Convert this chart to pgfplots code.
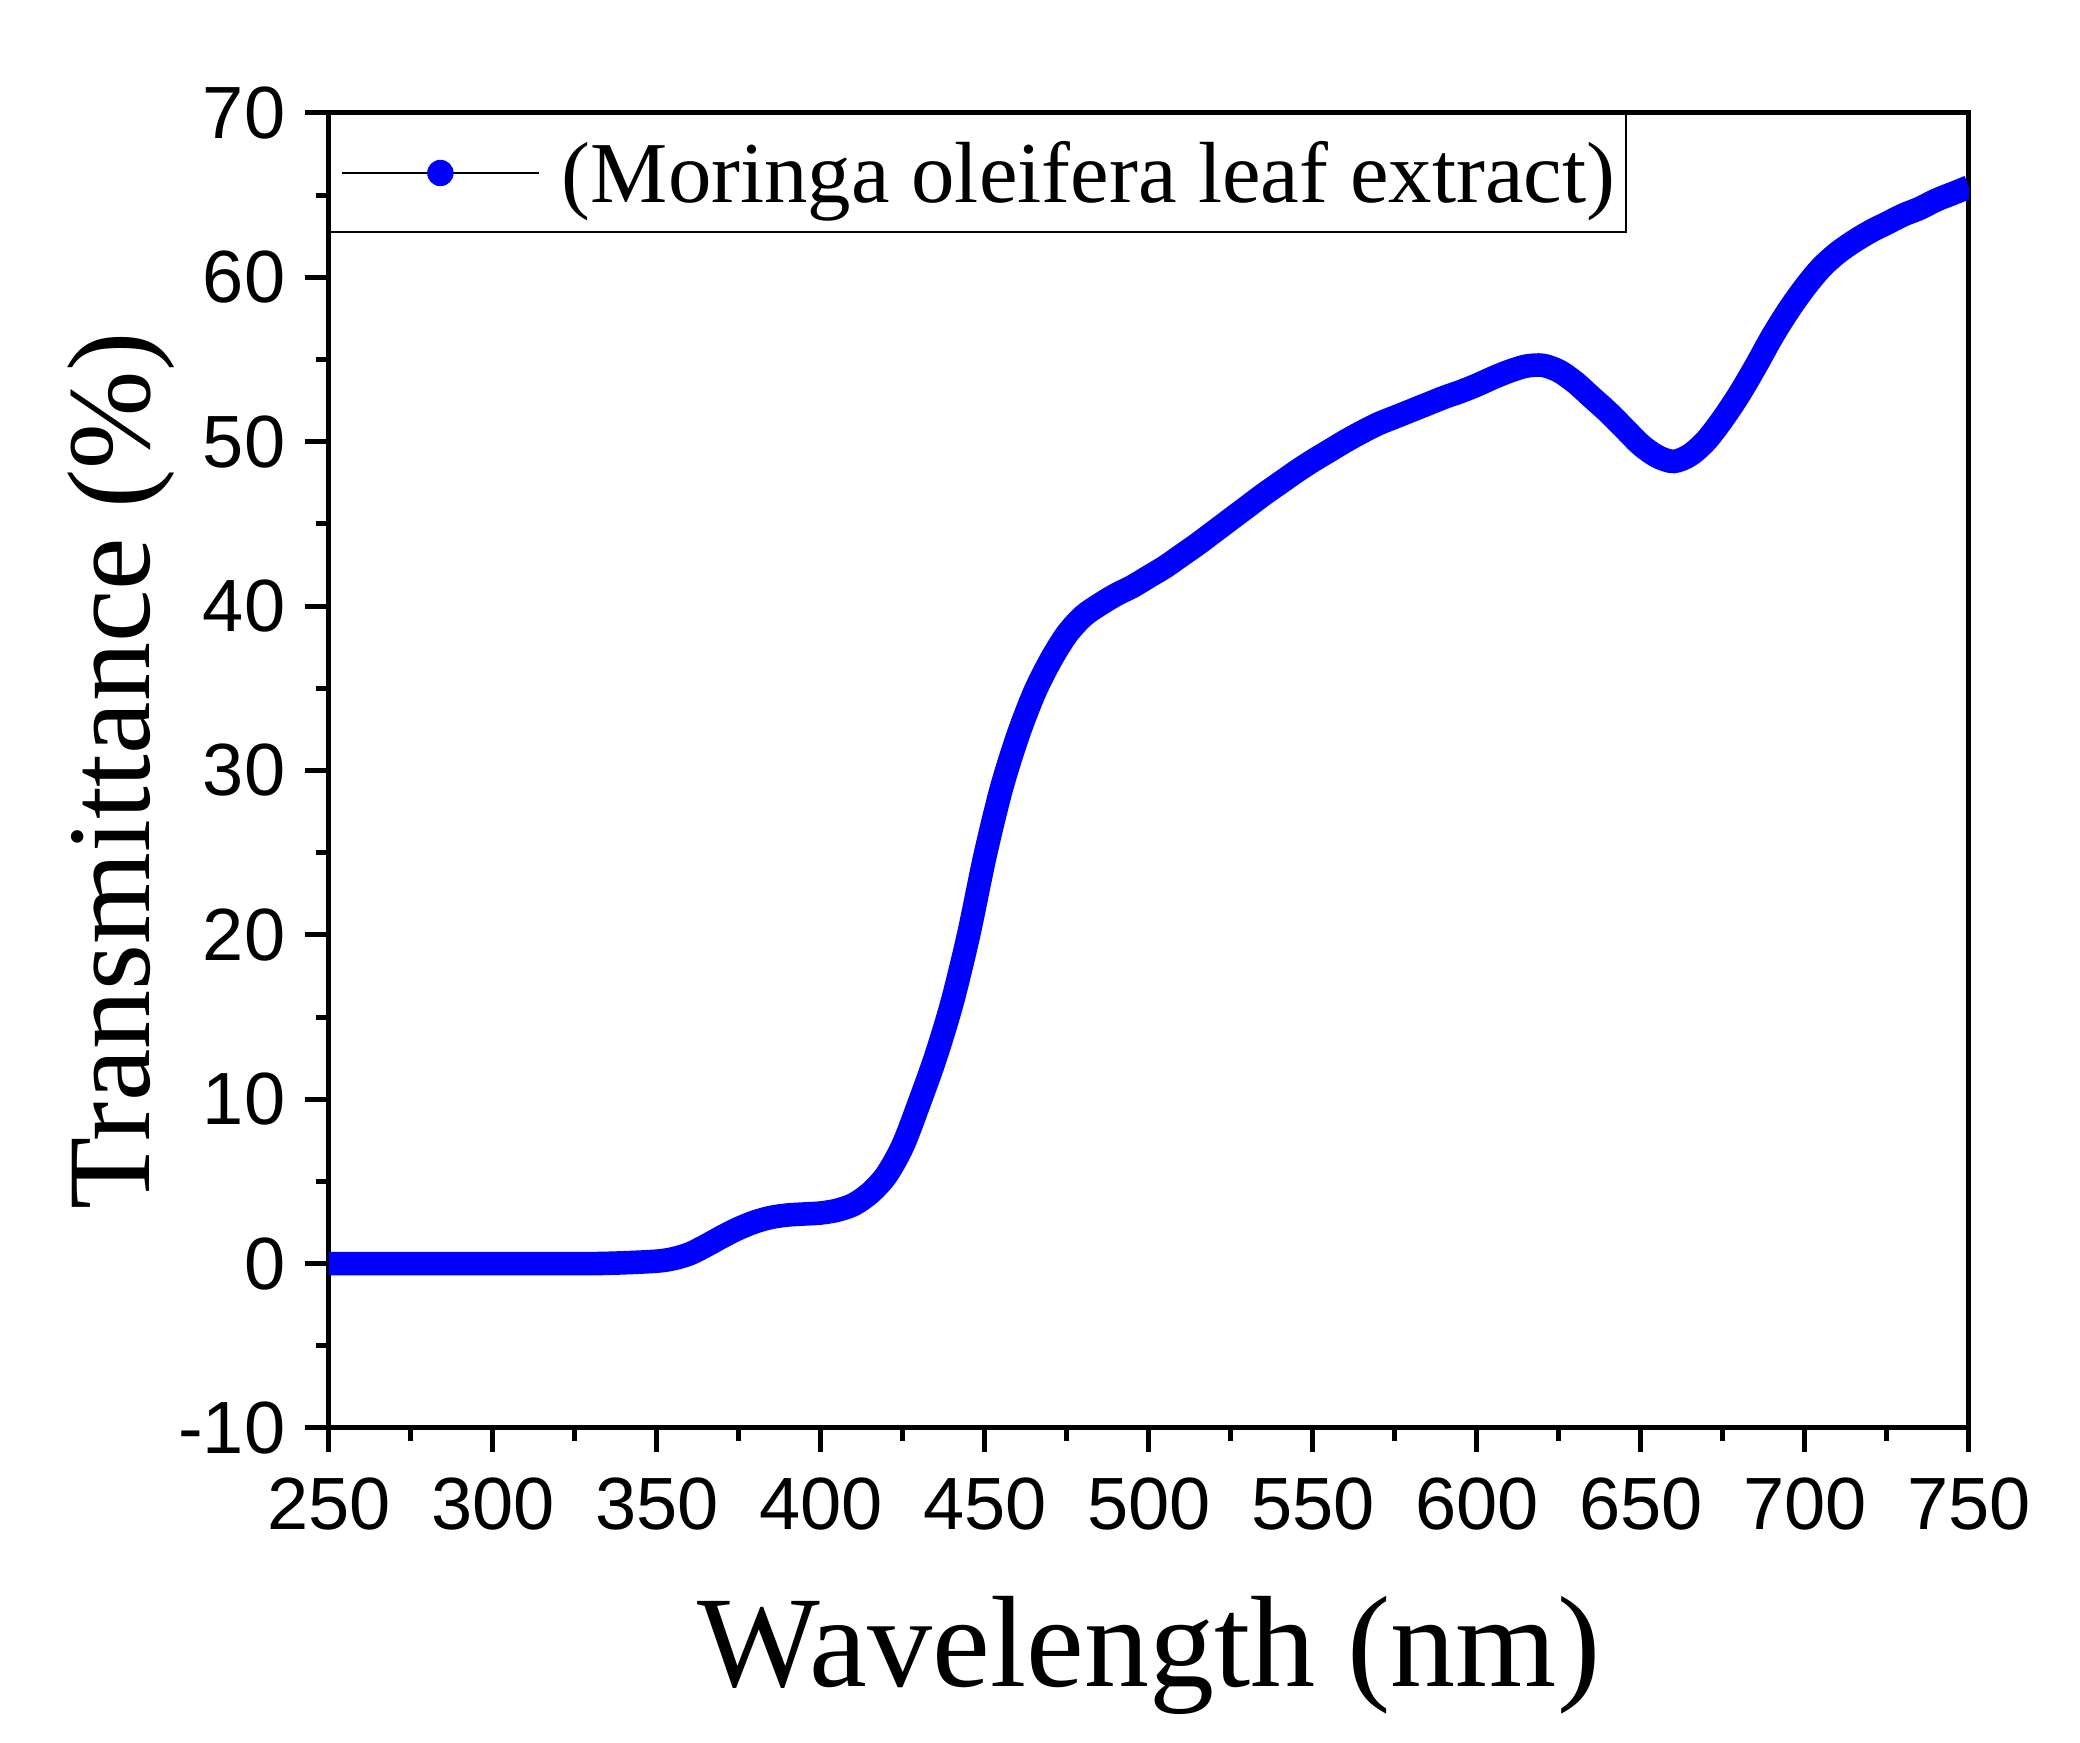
\documentclass[border=0pt]{standalone}
\usepackage{fontspec}
\setmainfont{Liberation Serif}
\newfontfamily\arialfont{Liberation Sans}
\usepackage{pgfplots}
\usepackage{pgfplotstable}
\pgfplotsset{compat=1.18}
\pgfplotstableread{
x y
250 0
270 0
290 0
310 0
330 0
340 0.05
350 0.15
355 0.3
360 0.6
365 1.1
370 1.65
375 2.15
380 2.55
385 2.82
390 2.96
395 3.02
400 3.08
405 3.25
410 3.6
415 4.3
420 5.4
425 7.2
430 9.8
435 12.6
440 15.9
445 20.0
450 24.8
455 28.9
460 32.1
465 34.7
470 36.7
475 38.3
480 39.4
485 40.1
490 40.7
495 41.2
500 41.8
505 42.4
510 43.1
515 43.8
520 44.55
525 45.3
530 46.05
535 46.8
540 47.5
545 48.2
550 48.85
555 49.45
560 50.05
565 50.6
570 51.1
575 51.5
580 51.9
585 52.3
590 52.7
595 53.05
600 53.45
605 53.9
610 54.3
615 54.6
620 54.65
625 54.3
630 53.6
635 52.7
640 51.8
645 50.8
650 49.8
655 49.1
660 48.8
665 49.2
670 50.1
675 51.4
680 52.9
685 54.6
690 56.4
695 58.0
700 59.4
705 60.6
710 61.5
715 62.2
720 62.8
725 63.3
730 63.8
735 64.2
740 64.7
745 65.1
750 65.5
}\spectrum
\begin{document}
\begin{tikzpicture}
\path[use as bounding box] (-82.25pt,-78.75pt) rectangle (437.75pt,357pt);
\begin{axis}[
  at={(0,0)}, anchor=south west,
  scale only axis, width=410pt, height=328.75pt,
  xmin=250, xmax=750, ymin=-10, ymax=70,
  xtick={250,300,...,750}, ytick={-10,0,...,70},
  minor x tick num=1, minor y tick num=1,
  tick align=outside, xtick pos=bottom, ytick pos=left,
  major tick length=6pt, minor tick length=3.25pt,
  every tick/.style={black, line width=1.25pt},
  axis line style={line width=1.25pt},
  /pgf/number format/assume math mode=true,
  ticklabel style={font=\arialfont\fontsize{18.5}{18.5}\selectfont},
  xticklabel style={anchor=base, inner sep=0pt, yshift=-19.5pt},
  yticklabel style={anchor=east, inner sep=0pt, xshift=-4.75pt},
  xlabel={Wavelength (nm)},
  xlabel style={font=\fontsize{32.5}{32.5}\selectfont, at={(axis description cs:0.5,0)}, anchor=base, yshift=-64.75pt},
  ylabel={Transmittance (\%)},
  ylabel style={font=\fontsize{29.5}{29.5}\selectfont, at={([xshift=-44.75pt]axis description cs:0,0.5)}, anchor=base},
  legend style={at={(0,1)}, anchor=north west, draw=black, line width=0.5pt,
    inner xsep=2.75pt, inner ysep=0pt, fill=white,
    font=\fontsize{21.7}{21.7}\selectfont,
    nodes={inner sep=0pt, text height=22.25pt, text depth=7.25pt, anchor=base},
    /tikz/every odd column/.append style={column sep=5.5pt}},
]
\addplot[blue, line width=5.9pt, smooth, no markers,
  legend image code/.code={
    \draw[black, line width=0.5pt] (0pt,7.5pt) -- (49.25pt,7.5pt);
    \path[fill=blue, draw=none] (24.6pt,7.5pt) circle[radius=3.3pt];
  }] table[x=x, y=y] {\spectrum};
\addlegendentry{(Moringa oleifera leaf extract)}
\end{axis}
\end{tikzpicture}
\end{document}
